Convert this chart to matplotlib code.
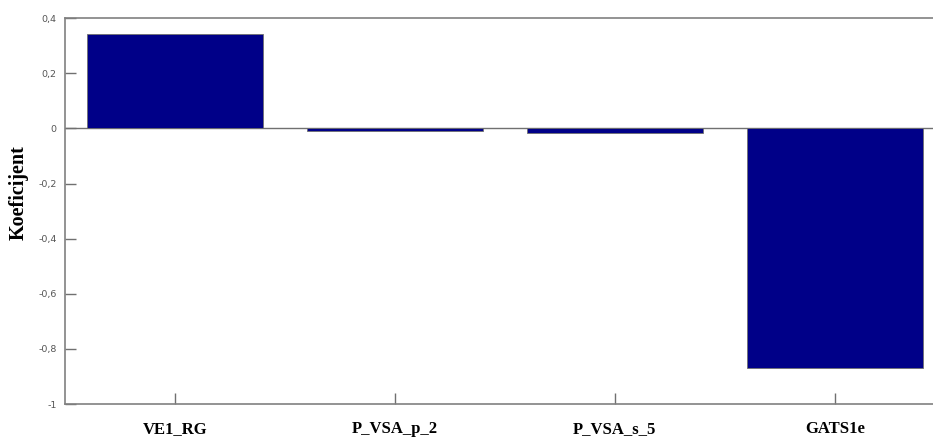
import matplotlib.pyplot as plt
from matplotlib.ticker import FuncFormatter

descriptors = ["VE1_RG", "P_VSA_p_2", "P_VSA_s_5", "GATS1e"]
coefficients = [0.341, -0.010, -0.018, -0.868]
y_ticks = [-1, -0.8, -0.6, -0.4, -0.2, 0, 0.2, 0.4]

fig = plt.figure(figsize=(9.33, 4.37), dpi=100)
# the axes run a little past the right edge of the figure
ax = fig.add_axes([0.0697, 0.0755, 0.943, 0.883])

positions = range(1, len(descriptors) + 1)
ax.bar(positions, coefficients, width=0.8, color="#000088",
       edgecolor="#707070", linewidth=0.6, zorder=2)
ax.axhline(0, color="#707070", linewidth=1.0, zorder=1)

ax.set_xlim(0.5, 4.5)
ax.set_ylim(-1, 0.4)
ax.set_xticks(list(positions))
ax.set_xticklabels(descriptors, family="Liberation Serif",
                   fontweight="bold", fontsize=12)
ax.set_yticks(y_ticks)
ax.yaxis.set_major_formatter(
    FuncFormatter(lambda v, p: ("%g" % round(v, 1)).replace(".", ",")))
for lab in ax.get_yticklabels():
    lab.set_fontsize(6.8)
    lab.set_color("#555555")

ax.tick_params(axis="both", direction="in", color="#707070", width=1.0)
ax.tick_params(axis="y", length=8, pad=6)
ax.tick_params(axis="x", length=8, pad=12)
for side in ["left", "bottom", "top"]:
    ax.spines[side].set_color("#808080")
    ax.spines[side].set_linewidth(1.2)
ax.spines["right"].set_visible(False)

ax.set_ylabel("Koeficijent", family="Liberation Serif",
              fontweight="bold", fontsize=14.5)
ax.yaxis.set_label_coords(-0.041, 0.547)

fig.savefig("out.png", dpi=100)
